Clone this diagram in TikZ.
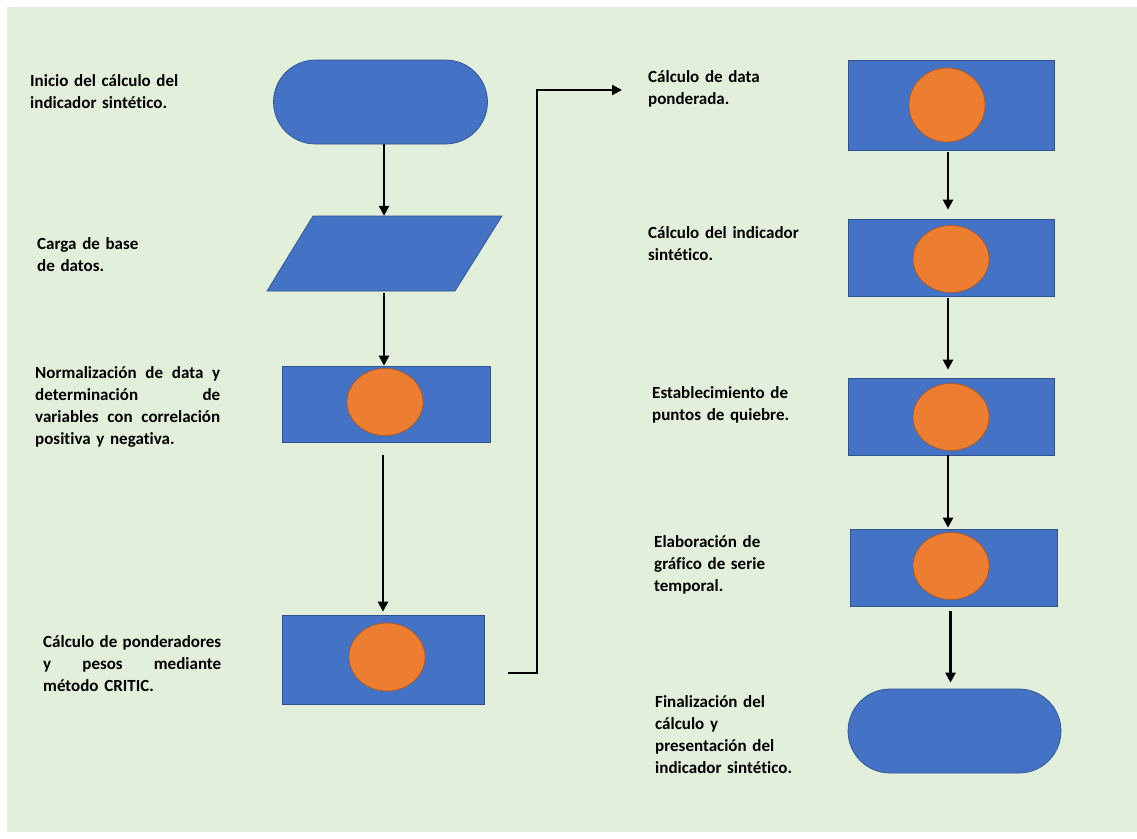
\documentclass[tikz,border=0pt]{standalone}
\usepackage{fontspec}
\setmainfont{Carlito}[Ligatures=NoCommon]
\usetikzlibrary{arrows.meta,shapes.geometric,calc}
\definecolor{bggreen}{HTML}{E2EFDA}
\definecolor{shapeblue}{HTML}{4472C4}
\definecolor{blueedge}{HTML}{2F528F}
\definecolor{dotorange}{HTML}{ED7D31}
\definecolor{orangeedge}{HTML}{AE5A21}
\begin{document}
\begin{tikzpicture}[x=1pt,y=-1pt,
  box/.style={draw=blueedge, fill=shapeblue, line width=0.7pt, inner sep=0pt},
  term/.style={box, rounded corners=42pt, minimum width=214pt, minimum height=84pt},
  procbox/.style={box, minimum width=206pt, minimum height=77pt},
  dot/.style={ellipse, draw=orangeedge, fill=dotorange, line width=0.7pt, inner sep=0pt, minimum width=76pt, minimum height=67pt},
  lbl/.style={anchor=base west, inner sep=0pt, text width=215pt, align=left, font=\fontsize{17}{22}\selectfont\bfseries, text=black},
  arr/.style={-{Triangle[width=10pt,length=10pt]}, line width=2.3pt}
]
\useasboundingbox (0,0) rectangle (1137,838);
\fill[white] (0,0) rectangle (1137,838);
\fill[bggreen] (7,7) rectangle (1137,832);

% left column
\node[term] (start) at (380.5,102) {};
\draw[box] (313,216) -- (502,216) -- (455,291) -- (267,291) -- cycle;
\node[inner sep=0pt, minimum width=189pt, minimum height=75pt] (para) at (384,253.5) {};
\node[procbox, minimum width=208pt, minimum height=76pt] (n3) at (386,404) {};
\node[dot] (d3) at (385,402) {};
\node[procbox, minimum width=202pt, minimum height=89pt] (n4) at (383,659.5) {};
\node[dot, minimum height=68pt] (d4) at (387,657) {};

% right column
\node[procbox, minimum height=90pt] (r1) at (951,105) {};
\node[dot, minimum height=74pt] (e1) at (947,105) {};
\node[procbox] (r2) at (951,257.5) {};
\node[dot] (e2) at (951,259) {};
\node[procbox] (r3) at (951,416.5) {};
\node[dot] (e3) at (951,417) {};
\node[procbox, minimum width=207pt] (r4) at (953.5,567.5) {};
\node[dot] (e4) at (951,566) {};
\node[term, minimum width=213pt] (fin) at (954.5,731) {};

% connectors
\draw[arr] (para.north |- start.south) -- (para.north);
\draw[arr] ($(para.south)+(0,2)$) -- (para.south |- n3.north);
\draw[arr] ($(n3.south)+(-3,13)$) -- ($(n3.south |- n4.north)+(-3,-3)$);
\coordinate (e0) at (508,673);
\coordinate (tip) at (622,90);
\draw[arr] (e0) -- ++(29,0) |- (tip);
\draw[arr] ($(r1.south)+(-3,2)$) -- ($(r1.south |- r2.north)+(-3,-9)$);
\draw[arr] ($(r2.south)+(-3,2)$) -- ($(r2.south |- r3.north)+(-3,-8)$);
\draw[arr] ($(r3.south)+(-3,0)$) -- ($(r3.south |- r4.north)+(-3,-1)$);
\draw[arr] ($(r4.south)+(-3,5)$) -- ($(r4.south |- fin.north)+(-3,-6)$);

% labels
\node[lbl] (t1) at (30,86) {Inicio del cálculo del\\indicador sintético.};
\node[lbl] (t2) at (37,249) {Carga de base\\de datos.};
\node[lbl] (t3) at (35,378) {\makebox[185pt][s]{Normalización\hfill de\hfill data\hfill y}\\\makebox[185pt][s]{determinación\hfill de}\\\makebox[185pt][s]{variables\hfill con\hfill correlación}\\positiva y negativa.};
\node[lbl] (t4) at (43,647) {\makebox[178pt][s]{Cálculo\hfill de\hfill ponderadores}\\\makebox[178pt][s]{y\hfill pesos\hfill mediante}\\método CRITIC.};
\node[lbl] (t5) at (648,82) {Cálculo de data\\ponderada.};
\node[lbl] (t6) at (648,238) {Cálculo del indicador\\sintético.};
\node[lbl] (t7) at (652,398) {Establecimiento de\\puntos de quiebre.};
\node[lbl] (t8) at (654,547) {Elaboración de\\gráfico de serie\\temporal.};
\node[lbl] (t9) at (655,707) {Finalización del\\cálculo y\\presentación del\\indicador sintético.};
\end{tikzpicture}
\end{document}
